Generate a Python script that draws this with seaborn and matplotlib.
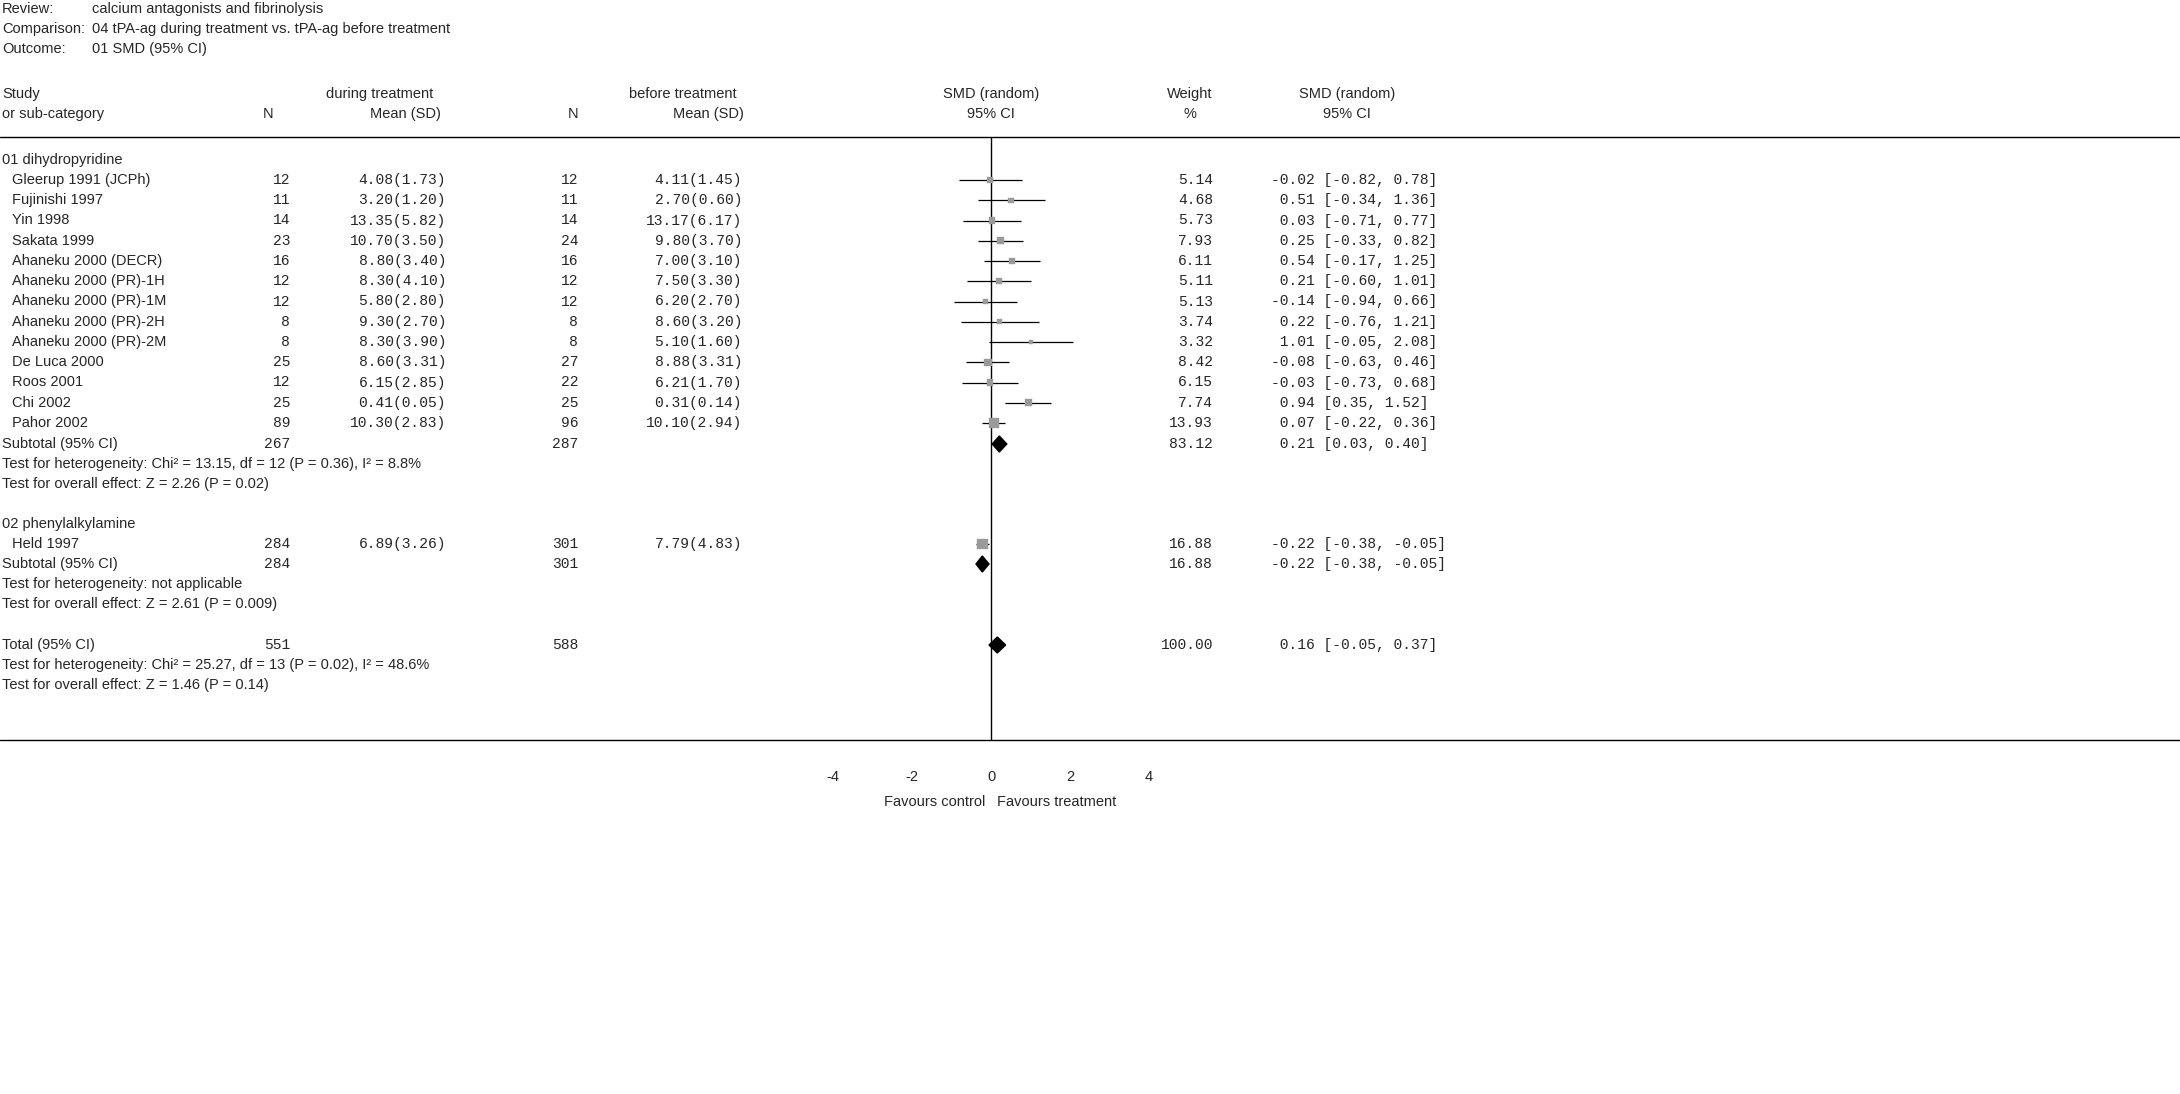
import matplotlib
matplotlib.use("Agg")
import matplotlib.pyplot as plt
import seaborn as sns
import pandas as pd

sns.set_style("white")

# ---- data ----
studies = ["Gleerup 1991 (JCPh)", "Fujinishi 1997", "Yin 1998", "Sakata 1999",
           "Ahaneku 2000 (DECR)", "Ahaneku 2000 (PR)-1H", "Ahaneku 2000 (PR)-1M",
           "Ahaneku 2000 (PR)-2H", "Ahaneku 2000 (PR)-2M", "De Luca 2000",
           "Roos 2001", "Chi 2002", "Pahor 2002", "Held 1997"]
n_during = [12, 11, 14, 23, 16, 12, 12, 8, 8, 25, 12, 25, 89, 284]
mean_during = [4.08, 3.20, 13.35, 10.70, 8.80, 8.30, 5.80, 9.30, 8.30, 8.60, 6.15, 0.41, 10.30, 6.89]
sd_during = [1.73, 1.20, 5.82, 3.50, 3.40, 4.10, 2.80, 2.70, 3.90, 3.31, 2.85, 0.05, 2.83, 3.26]
n_before = [12, 11, 14, 24, 16, 12, 12, 8, 8, 27, 22, 25, 96, 301]
mean_before = [4.11, 2.70, 13.17, 9.80, 7.00, 7.50, 6.20, 8.60, 5.10, 8.88, 6.21, 0.31, 10.10, 7.79]
sd_before = [1.45, 0.60, 6.17, 3.70, 3.10, 3.30, 2.70, 3.20, 1.60, 3.31, 1.70, 0.14, 2.94, 4.83]
weight = [5.14, 4.68, 5.73, 7.93, 6.11, 5.11, 5.13, 3.74, 3.32, 8.42, 6.15, 7.74, 13.93, 16.88]
smd = [-0.02, 0.51, 0.03, 0.25, 0.54, 0.21, -0.14, 0.22, 1.01, -0.08, -0.03, 0.94, 0.07, -0.22]
lo = [-0.82, -0.34, -0.71, -0.33, -0.17, -0.60, -0.94, -0.76, -0.05, -0.63, -0.73, 0.35, -0.22, -0.38]
hi = [0.78, 1.36, 0.77, 0.82, 1.25, 1.01, 0.66, 1.21, 2.08, 0.46, 0.68, 1.52, 0.36, -0.05]

sub_labels = ["Subtotal (95% CI)", "Subtotal (95% CI)", "Total (95% CI)"]
sub_n_during = [267, 284, 551]
sub_n_before = [287, 301, 588]
sub_weight = [83.12, 16.88, 100.00]
sub_smd = [0.21, -0.22, 0.16]
sub_lo = [0.03, -0.38, -0.05]
sub_hi = [0.40, -0.05, 0.37]
sub_het = ["Test for heterogeneity: Chi\u00b2 = 13.15, df = 12 (P = 0.36), I\u00b2 = 8.8%",
           "Test for heterogeneity: not applicable",
           "Test for heterogeneity: Chi\u00b2 = 25.27, df = 13 (P = 0.02), I\u00b2 = 48.6%"]
sub_z = ["Test for overall effect: Z = 2.26 (P = 0.02)",
         "Test for overall effect: Z = 2.61 (P = 0.009)",
         "Test for overall effect: Z = 1.46 (P = 0.14)"]
groups = ["01 dihydropyridine", "02 phenylalkylamine"]
x_ticks = [-4, -2, 0, 2, 4]

# ---- layout (pixel rows) ----
W, H = 2180, 1094
study_y = [180 + 20.25 * i for i in range(13)] + [544]
group_y = [160, 524]
sub_y = [444, 564, 645]
TOP, BOT = 137, 740

fig = plt.figure(figsize=(W / 100, H / 100), dpi=100)
bg = fig.add_axes([0, 0, 1, 1])
bg.set_xlim(0, W)
bg.set_ylim(H, 0)
bg.axis("off")

SANS = "Liberation Sans"
MONO = "Liberation Mono"
fs = 10.5


def t(x, y, s, ha="left", mono=False):
    bg.text(x, y, s, ha=ha, va="center", fontsize=fs, family=MONO if mono else SANS)


# title block
for i, (k, v) in enumerate([("Review:", "calcium antagonists and fibrinolysis"),
                            ("Comparison:", "04 tPA-ag during treatment vs. tPA-ag before treatment"),
                            ("Outcome:", "01 SMD (95% CI)")]):
    t(2, 9 + 20 * i, k)
    t(92, 9 + 20 * i, v)

# column headers
h1, h2 = 94, 114
t(2, h1, "Study")
t(2, h2, "or sub-category")
t(268, h2, "N", "center")
t(380, h1, "during treatment", "center")
t(405, h2, "Mean (SD)", "center")
t(573, h2, "N", "center")
t(683, h1, "before treatment", "center")
t(708, h2, "Mean (SD)", "center")
t(991, h1, "SMD (random)", "center")
t(991, h2, "95% CI", "center")
t(1190, h1, "Weight", "center")
t(1190, h2, "%", "center")
t(1347, h1, "SMD (random)", "center")
t(1347, h2, "95% CI", "center")

bg.plot([0, W], [TOP, TOP], color="black", lw=1)
bg.plot([0, W], [BOT, BOT], color="black", lw=1)


def ci_str(m, a, b):
    return f"{m:5.2f} [{a:.2f}, {b:.2f}]"


for g, y in zip(groups, group_y):
    t(2, y, g)

for i, y in enumerate(study_y):
    t(12, y, studies[i])
    t(290, y, str(n_during[i]), "right", True)
    t(446, y, f"{mean_during[i]:.2f}({sd_during[i]:.2f})", "right", True)
    t(578, y, str(n_before[i]), "right", True)
    t(742, y, f"{mean_before[i]:.2f}({sd_before[i]:.2f})", "right", True)
    t(1213, y, f"{weight[i]:.2f}", "right", True)
    t(1271, y, ci_str(smd[i], lo[i], hi[i]), mono=True)

for j, y in enumerate(sub_y):
    t(2, y, sub_labels[j])
    t(290, y, str(sub_n_during[j]), "right", True)
    t(578, y, str(sub_n_before[j]), "right", True)
    t(1213, y, f"{sub_weight[j]:.2f}", "right", True)
    t(1271, y, ci_str(sub_smd[j], sub_lo[j], sub_hi[j]), mono=True)
    t(2, y + 20, sub_het[j])
    t(2, y + 40, sub_z[j])

# ---- forest axes ----
x0, x1 = 833, 1149
ax = fig.add_axes([x0 / W, 1 - BOT / H, (x1 - x0) / W, (BOT - TOP) / H])
ax.set_xlim(-4, 4)
ax.set_ylim(BOT, TOP)
ax.axis("off")
ax.axvline(0, color="black", lw=1)

df = pd.DataFrame({"smd": smd, "lo": lo, "hi": hi, "w": weight, "y": study_y})
ax.hlines(df["y"], df["lo"], df["hi"], color="black", lw=0.9)
sns.scatterplot(data=df, x="smd", y="y", size="w", sizes=(10, 60), marker="s",
                color="#9a9a9a", edgecolor="#9a9a9a", legend=False, ax=ax, zorder=3)

for j, y in enumerate(sub_y):
    ax.fill([sub_lo[j], sub_smd[j], sub_hi[j], sub_smd[j]], [y, y - 8, y, y + 8],
            color="black", zorder=4)

for xt in x_ticks:
    ax.text(xt, BOT + 37, str(xt), ha="center", va="center", fontsize=fs, family=SANS,
            clip_on=False)
ax.text(-0.15, BOT + 62, "Favours control", ha="right", va="center", fontsize=fs,
        family=SANS, clip_on=False)
ax.text(0.15, BOT + 62, "Favours treatment", ha="left", va="center", fontsize=fs,
        family=SANS, clip_on=False)

fig.savefig("out.png", dpi=100)
